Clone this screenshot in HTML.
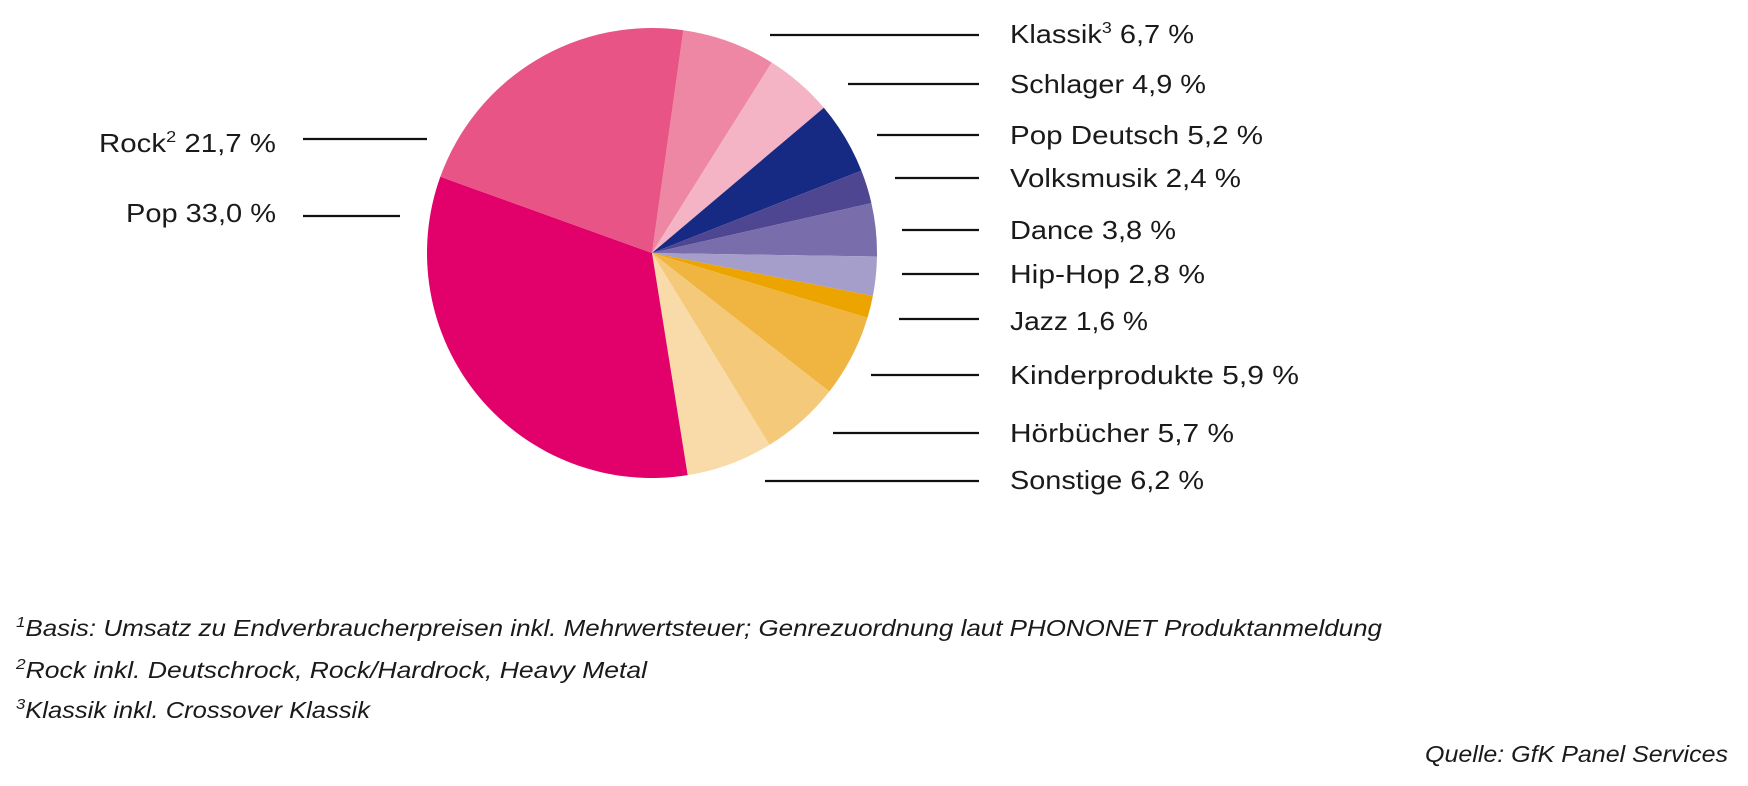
<!DOCTYPE html>
<html><head><meta charset="utf-8"><style>
html,body{margin:0;padding:0;background:#fff}
svg{display:block}
text{font-family:"Liberation Sans",sans-serif;fill:#1a1a1a}
.lab{font-size:26px}
.fn{font-size:23px;font-style:italic}
</style></head><body>
<svg id="chart" width="1748" height="786" viewBox="0 0 1748 786" xmlns="http://www.w3.org/2000/svg">
<g id="slices"></g>
<g stroke="#111" stroke-width="2.2">
<line x1="770" y1="35" x2="979" y2="35"/>
<line x1="848" y1="84" x2="979" y2="84"/>
<line x1="877" y1="135" x2="979" y2="135"/>
<line x1="895" y1="178" x2="979" y2="178"/>
<line x1="902" y1="230" x2="979" y2="230"/>
<line x1="902" y1="274" x2="979" y2="274"/>
<line x1="899" y1="319" x2="979" y2="319"/>
<line x1="871" y1="375" x2="979" y2="375"/>
<line x1="833" y1="433" x2="979" y2="433"/>
<line x1="765" y1="481" x2="979" y2="481"/>
<line x1="303" y1="139" x2="427" y2="139"/>
<line x1="303" y1="216" x2="400" y2="216"/>
</g>
<g>
<text class="lab" x="1010" y="43" textLength="184" lengthAdjust="spacingAndGlyphs">Klassik<tspan font-size="16" dy="-10">3</tspan><tspan dy="10"> 6,7 %</tspan></text>
<text class="lab" x="1010" y="93" textLength="196" lengthAdjust="spacingAndGlyphs">Schlager 4,9 %</text>
<text class="lab" x="1010" y="144" textLength="253" lengthAdjust="spacingAndGlyphs">Pop Deutsch 5,2 %</text>
<text class="lab" x="1010" y="187" textLength="231" lengthAdjust="spacingAndGlyphs">Volksmusik 2,4 %</text>
<text class="lab" x="1010" y="239" textLength="166" lengthAdjust="spacingAndGlyphs">Dance 3,8 %</text>
<text class="lab" x="1010" y="283" textLength="195" lengthAdjust="spacingAndGlyphs">Hip-Hop 2,8 %</text>
<text class="lab" x="1010" y="330" textLength="138" lengthAdjust="spacingAndGlyphs">Jazz 1,6 %</text>
<text class="lab" x="1010" y="384" textLength="289" lengthAdjust="spacingAndGlyphs">Kinderprodukte 5,9 %</text>
<text class="lab" x="1010" y="442" textLength="224" lengthAdjust="spacingAndGlyphs">Hörbücher 5,7 %</text>
<text class="lab" x="1010" y="489" textLength="194" lengthAdjust="spacingAndGlyphs">Sonstige 6,2 %</text>
<text class="lab" x="99" y="152" textLength="177" lengthAdjust="spacingAndGlyphs">Rock<tspan font-size="16" dy="-10">2</tspan><tspan dy="10"> 21,7 %</tspan></text>
<text class="lab" x="126" y="222" textLength="150" lengthAdjust="spacingAndGlyphs">Pop 33,0 %</text>
</g>
<g>
<text class="fn" x="16" y="636" textLength="1366" lengthAdjust="spacingAndGlyphs"><tspan font-size="15" dy="-9">1</tspan><tspan dy="9">Basis: Umsatz zu Endverbraucherpreisen inkl. Mehrwertsteuer; Genrezuordnung laut PHONONET Produktanmeldung</tspan></text>
<text class="fn" x="16" y="678" textLength="631" lengthAdjust="spacingAndGlyphs"><tspan font-size="15" dy="-9">2</tspan><tspan dy="9">Rock inkl. Deutschrock, Rock/Hardrock, Heavy Metal</tspan></text>
<text class="fn" x="16" y="718" textLength="354" lengthAdjust="spacingAndGlyphs"><tspan font-size="15" dy="-9">3</tspan><tspan dy="9">Klassik inkl. Crossover Klassik</tspan></text>
<text class="fn" x="1425" y="762" textLength="303" lengthAdjust="spacingAndGlyphs">Quelle: GfK Panel Services</text>
</g>
</svg>
<script>
const categories = ["Klassik","Schlager","Pop Deutsch","Volksmusik","Dance","Hip-Hop","Jazz","Kinderprodukte","Hörbücher","Sonstige","Pop","Rock"];
const values = [6.7,4.9,5.2,2.4,3.8,2.8,1.6,5.9,5.7,6.2,33.0,21.7];
const colors = ["#ee87a3","#f4b4c6","#172a83","#4f4692","#7a6dab","#a59ecb","#eba400","#f0b541","#f5c97a","#f8dba8","#e2006a","#e75485"];
const cx = 652, cy = 253, r = 225, startDeg = 8;
const total = values.reduce((a,b)=>a+b,0);
function pt(deg){const a=deg*Math.PI/180;return [cx+r*Math.sin(a), cy-r*Math.cos(a)];}
const g = document.getElementById('slices');
let acc = startDeg;
values.forEach((v,i)=>{
  const sweep = v/total*360;
  const p0 = pt(acc), p1 = pt(acc+sweep);
  const large = sweep>180?1:0;
  const path = document.createElementNS('http://www.w3.org/2000/svg','path');
  path.setAttribute('d',`M${cx},${cy} L${p0[0]},${p0[1]} A${r},${r} 0 ${large} 1 ${p1[0]},${p1[1]} Z`);
  path.setAttribute('fill',colors[i]);
  
  
  g.appendChild(path);
  acc += sweep;
});
</script>
</body></html>
